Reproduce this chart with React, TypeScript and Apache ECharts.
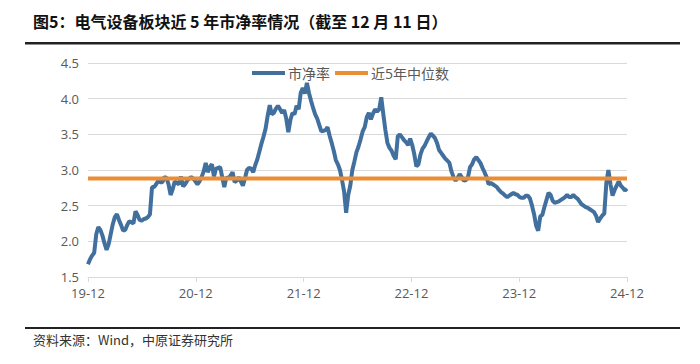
import React, { useEffect, useRef } from "react";
import * as echarts from "echarts";

// Weekly P/B values, 2019-12-11 .. 2024-12-11 (262 weekly readings)
const pbValues: number[] = [
  1.68, 1.75, 1.80, 1.84, 2.10, 2.20, 2.16, 2.08, 1.97, 1.88,
  1.96, 2.10, 2.24, 2.34, 2.38, 2.30, 2.23, 2.15, 2.16, 2.23,
  2.28, 2.27, 2.25, 2.42, 2.37, 2.30, 2.29, 2.31, 2.32, 2.34,
  2.38, 2.76, 2.76, 2.80, 2.85, 2.83, 2.83, 2.90, 2.89, 2.80,
  2.65, 2.73, 2.84, 2.82, 2.80, 2.91, 2.77, 2.80, 2.85, 2.88,
  2.90, 2.88, 2.84, 2.80, 2.84, 2.90, 2.98, 3.10, 2.97, 3.04,
  3.08, 2.91, 3.02, 3.03, 3.04, 2.90, 2.76, 2.90, 2.88, 2.92,
  2.97, 2.83, 2.85, 2.90, 2.84, 2.78, 2.88, 3.00, 3.03, 3.02,
  2.97, 3.07, 3.15, 3.26, 3.37, 3.47, 3.58, 3.76, 3.91, 3.78,
  3.80, 3.86, 3.90, 3.85, 3.80, 3.84, 3.72, 3.53, 3.70, 3.80,
  3.78, 3.90, 3.85, 4.08, 4.15, 4.07, 4.22, 4.08, 3.97, 3.87,
  3.78, 3.72, 3.63, 3.54, 3.55, 3.56, 3.60, 3.48, 3.38, 3.27,
  3.14, 3.08, 3.00, 2.86, 2.70, 2.40, 2.65, 2.78, 3.00, 3.12,
  3.25, 3.33, 3.43, 3.54, 3.60, 3.74, 3.80, 3.71, 3.79, 3.85,
  3.82, 3.85, 4.02, 3.78, 3.56, 3.38, 3.31, 3.27, 3.20, 3.15,
  3.47, 3.50, 3.46, 3.42, 3.39, 3.35, 3.44, 3.35, 3.22, 3.05,
  3.08, 3.22, 3.30, 3.34, 3.40, 3.46, 3.51, 3.48, 3.45, 3.38,
  3.28, 3.24, 3.20, 3.16, 3.13, 3.10, 2.98, 2.90, 2.85, 2.89,
  2.94, 2.90, 2.85, 2.86, 2.90, 3.04, 3.08, 3.15, 3.18, 3.14,
  3.10, 3.03, 2.97, 2.90, 2.80, 2.82, 2.80, 2.78, 2.76, 2.72,
  2.69, 2.67, 2.64, 2.62, 2.64, 2.66, 2.68, 2.66, 2.65, 2.62,
  2.61, 2.61, 2.64, 2.64, 2.60, 2.50, 2.38, 2.22, 2.15, 2.35,
  2.37, 2.48, 2.58, 2.68, 2.65, 2.57, 2.54, 2.55, 2.56, 2.58,
  2.60, 2.62, 2.65, 2.62, 2.62, 2.65, 2.62, 2.60, 2.56, 2.52,
  2.50, 2.48, 2.47, 2.45, 2.43, 2.41, 2.36, 2.27, 2.32, 2.36,
  2.39, 2.82, 3.00, 2.80, 2.64, 2.72, 2.78, 2.84, 2.78, 2.75,
  2.71, 2.74,
];
const medianValue = 2.88;
const xTickLabels = ["19-12", "20-12", "21-12", "22-12", "23-12", "24-12"];
const seriesNames = ["市净率", "近5年中位数"];
const DAYS_PER_WEEK = 7;
const TOTAL_DAYS = 1827; // 2019-12-11 .. 2024-12-11
const YEARS = 5;

const TITLE = "图5：电气设备板块近 5 年市净率情况（截至 12 月 11 日）";
const SOURCE = "资料来源：Wind，中原证券研究所";

export default function App() {
  const ref = useRef<HTMLDivElement>(null);
  useEffect(() => {
    if (!ref.current) return;
    const chart = echarts.init(ref.current, undefined, { renderer: "svg" });
    const pbData = pbValues.map((v, i) => [
      (i * DAYS_PER_WEEK * YEARS) / TOTAL_DAYS,
      v,
    ]);
    const medianData = [
      [0, medianValue],
      [YEARS, medianValue],
    ];
    const labelFont = "'Open Sans', 'Noto Sans CJK SC', sans-serif";
    chart.setOption({
      animation: false,
      backgroundColor: "#ffffff",
      grid: { left: 88, right: 73, top: 63, bottom: 87, containLabel: false },
      legend: {
        left: 247,
        top: 61,
        icon: "rect",
        itemWidth: 33,
        itemHeight: 4,
        itemGap: 5,
        textStyle: {
          color: "#595959",
          fontSize: 14,
          fontFamily: labelFont,
          padding: [0, 0, 0, -2],
        },
        data: seriesNames,
      },
      xAxis: {
        type: "value",
        min: 0,
        max: YEARS,
        interval: 1,
        axisLine: { show: true, lineStyle: { color: "#d9d9d9", width: 1 } },
        axisTick: { show: true, length: 5, lineStyle: { color: "#d9d9d9" } },
        splitLine: { show: false },
        axisLabel: {
          color: "#595959",
          fontSize: 13,
          fontFamily: labelFont,
          margin: 9,
          formatter: (v: number) => xTickLabels[Math.round(v)] ?? "",
        },
      },
      yAxis: {
        type: "value",
        min: 1.5,
        max: 4.5,
        interval: 0.5,
        axisLine: { show: false },
        axisTick: { show: false },
        splitLine: { show: true, lineStyle: { color: "#d9d9d9", width: 1 } },
        axisLabel: {
          color: "#595959",
          fontSize: 13,
          fontFamily: labelFont,
          margin: 9,
          formatter: (v: number) => v.toFixed(1),
        },
      },
      series: [
        {
          name: seriesNames[0],
          type: "line",
          data: pbData,
          symbol: "none",
          lineStyle: { color: "#41709F", width: 4 },
          itemStyle: { color: "#41709F" },
          z: 3,
        },
        {
          name: seriesNames[1],
          type: "line",
          data: medianData,
          symbol: "none",
          lineStyle: { color: "#EB8D34", width: 4 },
          itemStyle: { color: "#EB8D34" },
          z: 4,
        },
      ],
      graphic: [
        {
          type: "text",
          left: 33,
          top: 13,
          style: {
            text: TITLE,
            fontSize: 16,
            fontWeight: "bold",
            fill: "#111111",
            fontFamily: "'Noto Sans CJK SC', sans-serif",
          },
        },
        {
          type: "rect",
          shape: { x: 25, y: 42, width: 655, height: 2.5 },
          style: { fill: "#222222" },
        },
        {
          type: "rect",
          shape: { x: 25, y: 327, width: 655, height: 2 },
          style: { fill: "#222222" },
        },
        {
          type: "text",
          left: 33,
          top: 333,
          style: {
            text: SOURCE,
            fontSize: 13,
            fill: "#333333",
            fontFamily: "'Noto Sans CJK SC', sans-serif",
          },
        },
      ],
    });
    return () => chart.dispose();
  }, []);
  return (
    <div
      ref={ref}
      style={{ position: "fixed", left: 0, top: 0, width: 700, height: 364 }}
    />
  );
}
